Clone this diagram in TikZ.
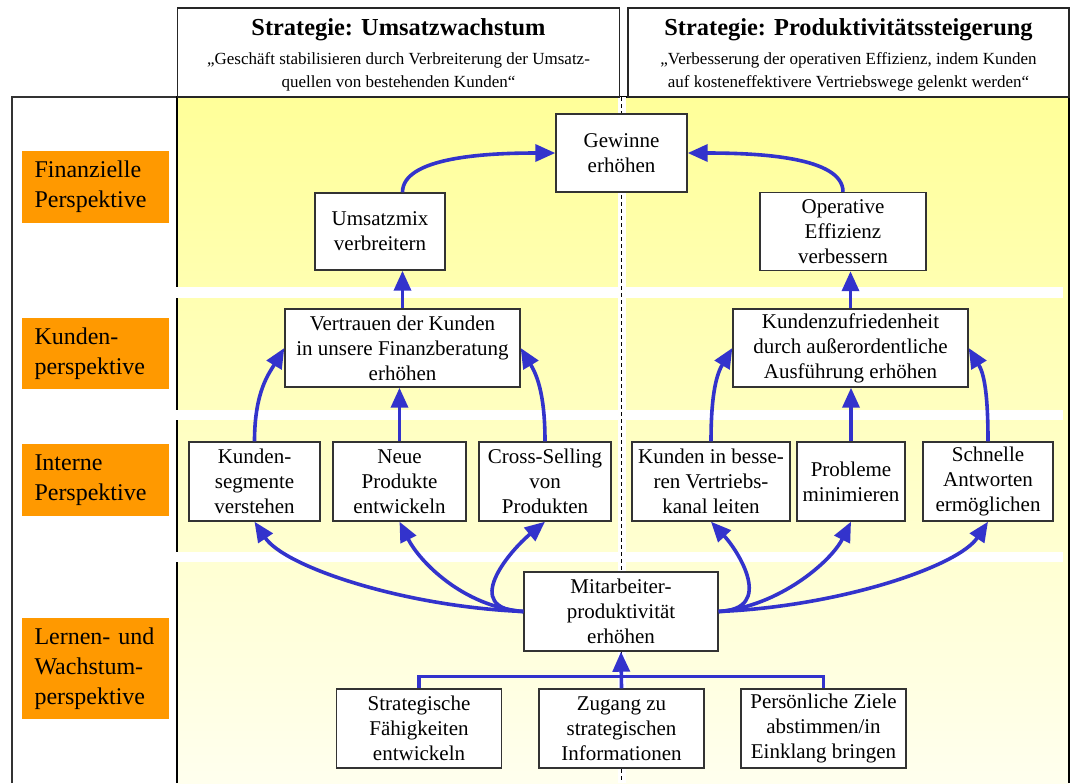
\documentclass[tikz,border=0pt]{standalone}
\usepackage{fontspec}
\setmainfont{Liberation Serif}
\usepackage{tikz}
\usetikzlibrary{arrows.meta}

\definecolor{panelTop}{HTML}{FFFF99}
\definecolor{panelMid}{HTML}{FFFFC4}
\definecolor{panelBot}{HTML}{FFFFEE}
\definecolor{linkblue}{HTML}{3333CC}
\definecolor{perspOrange}{HTML}{FF9900}

\newcommand{\boxfont}{\fontsize{10.5}{12.5}\selectfont}
\newcommand{\hdfont}{\fontsize{12.2}{14}\selectfont\bfseries}
\newcommand{\subfont}{\fontsize{8.5}{11.5}\selectfont}
\newcommand{\perspfont}{\fontsize{12}{15}\selectfont}

\tikzset{
    box/.style={draw=black!80, fill=white, line width=0.7pt, align=center,
        font=\boxfont, inner sep=0pt, minimum height=39.5pt},
    head/.style={draw=black!85, fill=white, line width=0.75pt,
        minimum height=44.5pt, inner sep=0pt},
    persp/.style={fill=perspOrange, font=\perspfont, align=left,
        text width=61pt, inner xsep=6.25pt, inner ysep=0pt, minimum width=73.5pt},
    link/.style={draw=linkblue, line width=1.8pt,
        -{Triangle[length=10pt,width=8.5pt]}},
    bar/.style={draw=linkblue, line width=1.8pt},
    band/.style={fill=white},
    divider/.style={draw=black, line width=0.5pt, dash pattern=on 2pt off 1.5pt}
}

\begin{document}
\begin{tikzpicture}[x=0.5pt,y=-0.5pt]
\clip (0,0) rectangle (1075,783);

% panel and frame
\shade[top color=panelTop, middle color=panelMid, bottom color=panelBot] (177,97) rectangle (1069,783);
\draw[black!80, line width=0.75pt] (12,783) -- (12,97) -- (177,97);
\draw[black, line width=0.75pt] (177,783) -- (177,97) -- (1069,97) -- (1069,783);

\fill[band] (176,287) rectangle (1063,297.5);
\fill[band] (176,409.5) rectangle (1063,420);
\fill[band] (176,551.5) rectangle (1063,562);

\fill[white] (617.5,97) rectangle (625.5,783);
\draw[divider] (621.5,97) -- (621.5,783);

% headers
\node[head, minimum width=221pt] (hdL) at (398.5,52.5) {};
\node[head, minimum width=220.5pt] (hdR) at (848.5,52.5) {};
\node[font=\hdfont, anchor=base] (ttlL) at (398.5,35) {Strategie: Umsatzwachstum};
\node[font=\hdfont, anchor=base] (ttlR) at (848.5,35) {Strategie: Produktivitätssteigerung};
\node[font=\subfont, align=center] (subL) at (398.5,72)
    {„Geschäft stabilisieren durch Verbreiterung der Umsatz-\\quellen von bestehenden Kunden“};
\node[font=\subfont, align=center] (subR) at (848.5,72)
    {„Verbesserung der operativen Effizienz, indem Kunden\\auf kosteneffektivere Vertriebswege gelenkt werden“};

% perspectives
\node[persp, minimum height=36pt] (pFin) at (95.5,187) {Finanzielle\\Perspektive};
\node[persp, minimum height=35.5pt] (pKun) at (95.5,353.5) {Kunden-\\perspektive};
\node[persp, minimum height=36pt] (pInt) at (95.5,480) {Interne\\Perspektive};
\node[persp, minimum height=50.5pt] (pLer) at (95.5,668.5) {Lernen- und\\Wachstum-\\perspektive};

% financial
\node[box, minimum width=65.5pt, minimum height=39pt] (gew) at (621.5,153) {Gewinne\\erhöhen};
\node[box, minimum width=65pt, minimum height=38.5pt] (ums) at (380,231.5) {Umsatzmix\\verbreitern};
\node[box, minimum width=83pt, minimum height=39pt] (op) at (843,231.5) {Operative\\Effizienz\\verbessern};

% customer
\node[box, minimum width=117.5pt, minimum height=39pt] (vert) at (402.5,348)
    {Vertrauen der Kunden\\in unsere Finanzberatung\\erhöhen};
\node[box, minimum width=117.5pt, minimum height=39pt] (kz) at (850.5,348)
    {Kundenzufriedenheit\\durch außerordentliche\\Ausführung erhöhen};

% internal
\node[box, minimum width=65.5pt] (ks) at (254.5,481.5) {Kunden-\\segmente\\verstehen};
\node[box, minimum width=66.5pt] (np) at (399.5,481.5) {Neue\\Produkte\\entwickeln};
\node[box, minimum width=66pt] (cs) at (545,481.5) {Cross-Selling\\von\\Produkten};
\node[box, minimum width=79pt] (kib) at (711,481.5) {Kunden in besse-\\ren Vertriebs-\\kanal leiten};
\node[box, minimum width=54pt] (prob) at (851,481.5) {Probleme\\minimieren};
\node[box, minimum width=65pt] (schn) at (988,481.5) {Schnelle\\Antworten\\ermöglichen};

% learning
\node[box, minimum width=97pt] (mit) at (621,611.5) {Mitarbeiter-\\produktivität\\erhöhen};
\node[box, minimum width=82.5pt] (sf) at (419,728.5) {Strategische\\Fähigkeiten\\entwickeln};
\node[box, minimum width=82.5pt] (zug) at (621.5,728.5) {Zugang zu\\strategischen\\Informationen};
\node[box, minimum width=82.5pt] (pz) at (823.5,728.5) {Persönliche Ziele\\abstimmen/in\\Einklang bringen};

% links
\draw[link] (ums.north -| vert.north) .. controls +(0,-35) and +(-70,0) .. (gew.west);
\draw[link] (op.north) .. controls +(0,-35) and +(70,0) .. (gew.east);
\draw[link] (vert.north) -- (ums.south -| vert.north);
\draw[link] (kz.north) -- (op.south -| kz.north);

\draw[link] (ks.north) .. controls +(0,-50) and +(-15,25) .. (vert.west);
\draw[link] (np.north) -- (vert.south -| np.north);
\draw[link] (cs.north) .. controls +(0,-50) and +(15,25) .. (vert.east);
\draw[link] (kib.north) .. controls +(0,-50) and +(-15,25) .. (kz.west);
\draw[link] (prob.north) -- (kz.south -| prob.north);
\draw[link] (schn.north) .. controls +(0,-50) and +(15,25) .. (kz.east);

\draw[link] (mit.west) .. controls +(-120,-5) and +(30,45) .. (ks.south);
\draw[link] (mit.west) .. controls +(-60,-5) and +(20,40) .. (np.south);
\draw[link] (mit.west) .. controls +(-64,-2) and +(-35,29) .. (cs.south);
\draw[link] (mit.east) .. controls +(57,-2) and +(27,29) .. (kib.south);
\draw[link] (mit.east) .. controls +(60,-5) and +(-20,40) .. (prob.south);
\draw[link] (mit.east) .. controls +(120,-5) and +(-30,45) .. (schn.south);

\draw[bar] (sf.north) -- ++(0,-12) -| (pz.north);
\draw[link] (zug.north) -- (mit.south);
\end{tikzpicture}
\end{document}
